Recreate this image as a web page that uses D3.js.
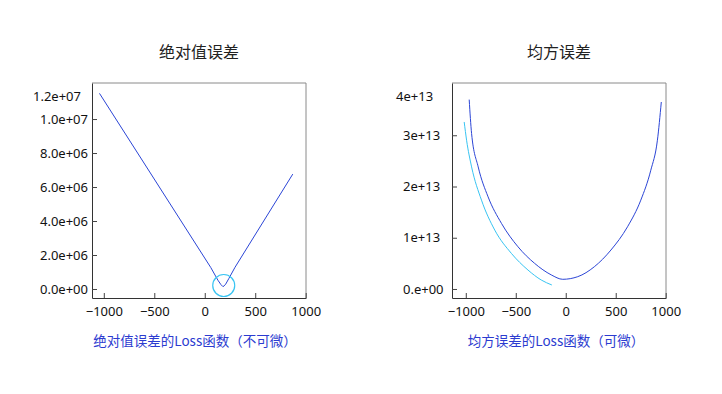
<!DOCTYPE html>
<html>
<head>
<meta charset="utf-8">
<script src="https://cdn.jsdelivr.net/npm/d3@7"></script>
<style>
  body { margin: 0; background: #fff; }
  text { font-family: "Noto Sans", "Noto Sans CJK SC", sans-serif; }
  .cjk { font-family: "Noto Sans CJK SC", sans-serif; }
</style>
</head>
<body>
<svg width="722" height="394"></svg>
<script>
// Absolute error loss (left)
let absX = [-1043, 60, 130, 160, 181, 205, 240, 300, 872];
let absY = [1.151e7, 1.26e6, 5.2e5, 2.6e5, 1.35e5, 2.6e5, 6.3e5, 1.28e6, 6.76e6];
let absMark = [188, 2.06e5];

// Mean squared error loss (right)
let mseX = [-966, -942, -876, -777, -643, -478, -312, -145, -30, 120, 286, 452, 618, 751, 851, 917, 956];
let mseY = [3.696e13, 3.033e13, 2.383e13, 1.798e13, 1.28e13, 8.24e12, 5.01e12, 2.75e12, 1.89e12, 2.4e12, 4.34e12, 7.6e12, 1.214e13, 1.734e13, 2.318e13, 2.903e13, 3.649e13];
let mse2X = [-1016, -992, -942, -843, -710, -544, -378, -245, -139];
let mse2Y = [3.259e13, 2.903e13, 2.383e13, 1.734e13, 1.149e13, 6.95e12, 3.7e12, 1.75e12, 7.8e11];

let xTicks = [-1000, -500, 0, 500, 1000];
let absYTicks = [0, 2e6, 4e6, 6e6, 8e6, 1e7, 1.2e7];
let absYLabels = ["0.0e+00", "2.0e+06", "4.0e+06", "6.0e+06", "8.0e+06", "1.0e+07", "1.2e+07"];
let mseYTicks = [0, 1e13, 2e13, 3e13, 4e13];
let mseYLabels = ["0.e+00", "1e+13", "2e+13", "3e+13", "4e+13"];

let titles = ["绝对值误差", "均方误差"];
let captions = ["绝对值误差的Loss函数（不可微）", "均方误差的Loss函数（可微）"];

let svg = d3.select("svg");
let dark = "#2b45d6";
let light = "#38c4f2";

function panel(opt) {
    let g = svg.append("g");
    let x = d3.scaleLinear().domain(opt.xDomain).range([opt.left, opt.left + 214]);
    let y = d3.scaleLinear().domain(opt.yDomain).range([298, 83]);

    // frame: top/right lighter
    g.append("line").attr("x1", opt.left).attr("x2", opt.left + 214).attr("y1", 83).attr("y2", 83)
        .attr("stroke", "#8a8a8a");
    g.append("line").attr("x1", opt.left + 214).attr("x2", opt.left + 214).attr("y1", 83).attr("y2", 298)
        .attr("stroke", "#8a8a8a");

    let xAxis = g.append("g").attr("transform", "translate(0,298)")
        .call(d3.axisBottom(x).tickValues(xTicks).tickSizeInner(-5).tickSizeOuter(0).tickPadding(9).tickFormat(d3.format("d")));
    let yAxis = g.append("g").attr("transform", "translate(" + opt.left + ",0)")
        .call(d3.axisLeft(y).tickValues(opt.yTicks).tickSizeInner(-5).tickSizeOuter(0)
            .tickFormat((d, i) => opt.yLabels[i]));
    [xAxis, yAxis].forEach(a => {
        a.select(".domain").attr("stroke", "#333");
        a.selectAll(".tick line").attr("stroke", "#444");
        a.selectAll("text").attr("font-size", 13).attr("fill", "#111");
    });
    xAxis.selectAll("text").attr("dy", "0.71em");
    yAxis.selectAll("text").attr("text-anchor", opt.anchor).attr("x", opt.labelX);
    // top label sits lower, without a tick
    let topVal = opt.yTicks[opt.yTicks.length - 1];
    let top = yAxis.selectAll(".tick").filter(d => d == topVal);
    top.select("line").remove();
    top.select("text").attr("x", opt.labelX - 7).attr("y", 96 - y(topVal));

    let line = d3.line().x(d => x(d[0])).y(d => y(d[1])).curve(opt.curve);
    opt.series.forEach(s => {
        g.append("path").datum(d3.zip(s.xs, s.ys))
            .attr("d", line).attr("fill", "none").attr("stroke", s.color).attr("stroke-width", 1);
    });
    if (opt.mark) {
        g.append("circle").attr("cx", x(opt.mark[0])).attr("cy", y(opt.mark[1])).attr("r", 11)
            .attr("fill", "none").attr("stroke", light).attr("stroke-width", 1.2);
    }

    let cx = opt.left + 107;
    g.append("text").attr("class", "cjk").attr("x", cx).attr("y", 58).attr("text-anchor", "middle")
        .attr("font-size", 16).attr("fill", "#222").text(opt.title);
    g.append("text").attr("class", "cjk").attr("x", cx + opt.capShift).attr("y", 346).attr("text-anchor", "middle")
        .attr("font-size", 13.5).attr("fill", "#2c3bd0").text(opt.caption);
}

panel({
    left: 92, xDomain: [-1117, 1003], yDomain: [-5.3e5, 1.212e7],
    yTicks: absYTicks, yLabels: absYLabels, anchor: "end", labelX: -4,
    curve: d3.curveLinear,
    series: [{ xs: absX, ys: absY, color: dark }],
    mark: absMark,
    title: titles[0], caption: captions[0], capShift: -4
});

panel({
    left: 452, xDomain: [-1138, 1003], yDomain: [-1.76e12, 4.02e13],
    yTicks: mseYTicks, yLabels: mseYLabels, anchor: "start", labelX: -49,
    curve: d3.curveMonotoneX,
    series: [{ xs: mseX, ys: mseY, color: dark }, { xs: mse2X, ys: mse2Y, color: light }],
    title: titles[1], caption: captions[1], capShift: -3
});
</script>
</body>
</html>
